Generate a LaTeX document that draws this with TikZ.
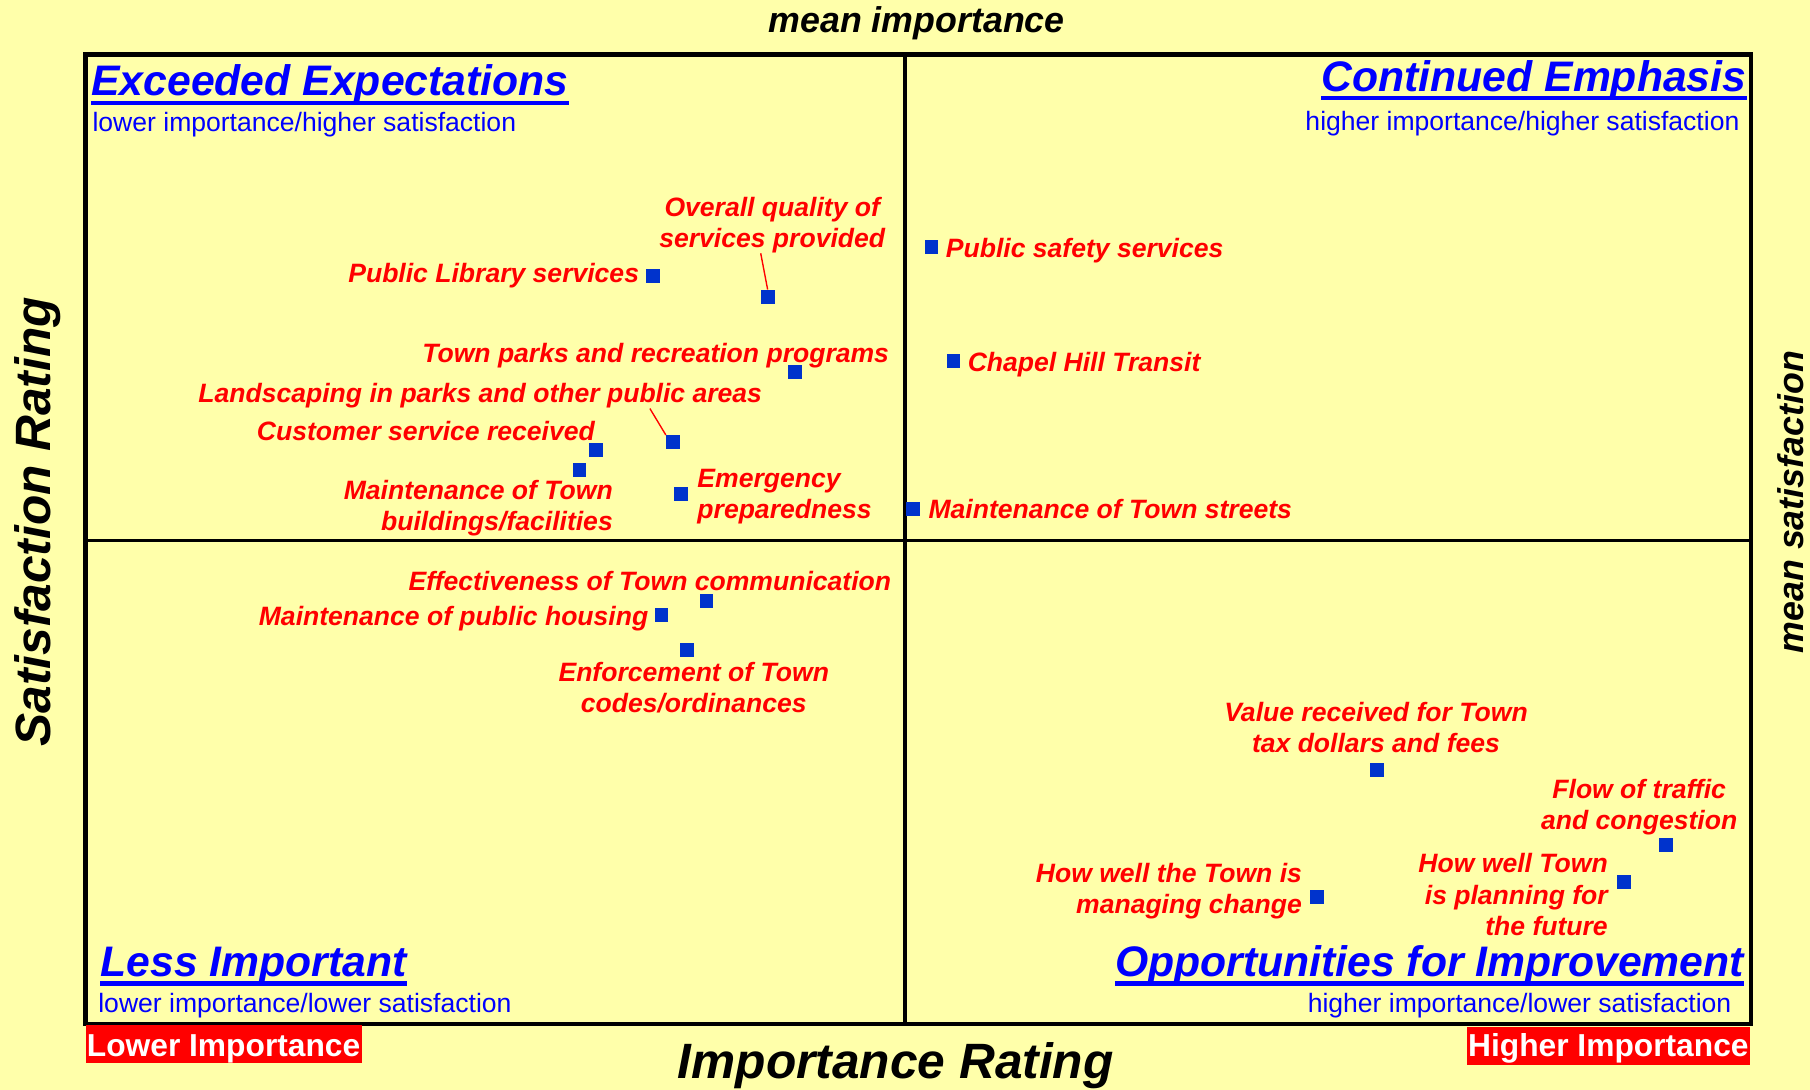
\documentclass[tikz,border=0pt]{standalone}
\usepackage{fontspec}
\setmainfont{Liberation Sans}
\usetikzlibrary{positioning}
\definecolor{paper}{RGB}{255,255,170}
\definecolor{dotblue}{RGB}{0,51,204}
\tikzset{
  frame/.style     = {draw=black, line width=4pt},
  divider/.style   = {draw=black, line width=3pt},
  point/.style     = {rectangle, fill=dotblue, minimum size=12pt, inner sep=0pt},
  item/.style      = {text=red, inner sep=0pt, align=center,
                      font=\fontsize{23}{27}\selectfont\bfseries\itshape},
  leader/.style    = {draw=red, line width=1.2pt},
  quadtitle/.style = {text=blue, inner sep=0pt,
                      font=\fontsize{37}{40}\selectfont\bfseries\itshape},
  quadsub/.style   = {text=blue, inner sep=0pt, font=\fontsize{23}{26}\selectfont},
  titleline/.style = {draw=blue, line width=3.5pt},
  axistitle/.style = {inner sep=0pt, font=\fontsize{43}{46}\selectfont\bfseries\itshape},
  meantitle/.style = {inner sep=0pt, font=\fontsize{31}{34}\selectfont\bfseries\itshape},
  endbox/.style    = {fill=red, text=white, inner sep=0pt,
                      font=\fontsize{27.5}{30}\selectfont\bfseries},
}
\begin{document}
\begin{tikzpicture}[x=1pt, y=-1pt]
  \fill[paper] (0,0) rectangle (1568,944);
  \useasboundingbox (0,0) rectangle (1568,944);

  % quadrants
  \draw[divider] (784,47) -- (784,887);
  \draw[divider, line width=2.3pt] (74,468) -- (1517,468);
  \draw[frame] (74,47) rectangle (1517,887);

  % axis titles
  \node[meantitle, anchor=base] (meanimp) at (794,28) {mean importance};
  \node[axistitle, anchor=base] (imprating) at (776,934) {Importance Rating};
  \node[axistitle, anchor=base, rotate=90] (satrating) at (44,452) {Satisfaction Rating};
  \node[meantitle, anchor=base, rotate=90] (meansat) at (1562,435) {mean satisfaction};
  \node[endbox, minimum width=239pt, text height=27.4pt, text depth=5.6pt,
        anchor=north west] (lowimp) at (74,888) {Lower Importance};
  \node[endbox, minimum width=245pt, text height=26pt, text depth=7.2pt,
        anchor=north east] (highimp) at (1516,889.4) {Higher Importance};

  % quadrant titles
  \node[quadtitle, anchor=base west] (exceeded) at (79,83) {Exceeded Expectations};
  \node[quadsub, anchor=base west] (exceededsub) at (80,114) {lower importance/higher satisfaction};
  \node[quadtitle, anchor=base east] (continued) at (1513,79) {Continued Emphasis};
  \node[quadsub, anchor=base east] (continuedsub) at (1507,113) {higher importance/higher satisfaction};
  \node[quadtitle, anchor=base west] (lessimp) at (87,846) {Less Important};
  \node[quadsub, anchor=base west] (lessimpsub) at (85,877) {lower importance/lower satisfaction};
  \node[quadtitle, anchor=base east] (opport) at (1511,846) {Opportunities for Improvement};
  \node[quadsub, anchor=base east] (opportsub) at (1500,877) {higher importance/lower satisfaction};
  \foreach \t in {exceeded, continued, lessimp, opport}
    \draw[titleline] ([yshift=-6pt]\t.base west) -- ([yshift=-6pt]\t.base east);

  % data points
  \node[point] (p-quality) at (665,257) {};
  \node[point] (p-library) at (566,239) {};
  \node[point] (p-parks) at (689,322) {};
  \node[point] (p-landscape) at (583,383) {};
  \node[point] (p-customer) at (516,390) {};
  \node[point] (p-buildings) at (502,407) {};
  \node[point] (p-emergency) at (590,428) {};
  \node[point] (p-safety) at (807,214) {};
  \node[point] (p-transit) at (826,313) {};
  \node[point] (p-streets) at (791,441) {};
  \node[point] (p-communication) at (612,521) {};
  \node[point] (p-housing) at (573,533) {};
  \node[point] (p-enforcement) at (595,563) {};
  \node[point] (p-value) at (1193,667) {};
  \node[point] (p-traffic) at (1443,732) {};
  \node[point] (p-planning) at (1407,764) {};
  \node[point] (p-change) at (1141,777) {};

  % point labels
  \node[item] (l-quality) at (669,195) {Overall quality of\\services provided};
  \node[item, left=6pt of p-library] (l-library) {Public Library services};
  \node[item] (l-parks) at (568,308) {Town parks and recreation programs};
  \node[item] (l-landscape) at (416,343) {Landscaping in parks and other public areas};
  \node[item] (l-customer) at (369,373) {Customer service received};
  \node[item, align=right, anchor=east] (l-buildings) at (531,440) {Maintenance of Town\\buildings/facilities};
  \node[item, align=left, anchor=west] (l-emergency) at (604,430) {Emergency\\preparedness};
  \node[item, right=6pt of p-safety, yshift=-3pt] (l-safety) {Public safety services};
  \node[item, right=6pt of p-transit, yshift=-3pt] (l-transit) {Chapel Hill Transit};
  \node[item, right=7pt of p-streets] (l-streets) {Maintenance of Town streets};
  \node[item] (l-communication) at (563,503) {Effectiveness of Town communication};
  \node[item, left=5pt of p-housing, yshift=-3pt] (l-housing) {Maintenance of public housing};
  \node[item] (l-enforcement) at (601,596) {Enforcement of Town\\codes/ordinances};
  \node[item] (l-value) at (1192,630) {Value received for Town\\tax dollars and fees};
  \node[item] (l-traffic) at (1420,699) {Flow of traffic\\and congestion};
  \node[item, align=right, anchor=east] (l-planning) at (1393,775) {How well Town\\is planning for\\the future};
  \node[item, align=right, anchor=east] (l-change) at (1128,772) {How well the Town is\\managing change};

  % leaders
  \draw[leader] ([xshift=-10pt]l-quality.south) -- (p-quality.north);
  \draw[leader] ([xshift=147pt]l-landscape.south) -- (p-landscape.north west);
\end{tikzpicture}
\end{document}
